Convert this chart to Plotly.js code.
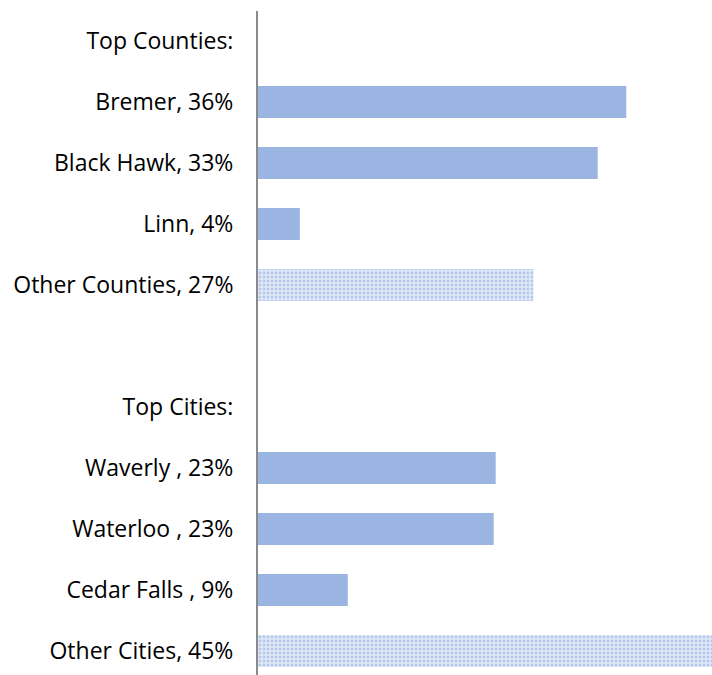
<!DOCTYPE html>
<html><head><meta charset="utf-8">
<script src="https://cdn.plot.ly/plotly-3.0.1.min.js"></script>
<style>html,body{margin:0;padding:0;background:#fff}#chart{width:712px;height:675px}</style>
</head><body><div id="chart"></div>
<script>
const labels = ["Top Counties:", "Bremer, 36%", "Black Hawk, 33%", "Linn, 4%", "Other Counties, 27%", "", "Top Cities:", "Waverly , 23%", "Waterloo , 23%", "Cedar Falls , 9%", "Other Cities, 45%"];
const values = [null, 36.1, 33.3, 4.1, 27.0, null, null, 23.3, 23.1, 8.8, 44.6];
const isOther = [false, false, false, false, true, false, false, false, false, false, true];

const idx = labels.map((_, i) => i);
const solidX = values.map((v, i) => isOther[i] ? null : v);
const otherX = values.map((v, i) => isOther[i] ? v : null);

const traces = [
  {type:'bar', orientation:'h', y: idx, x: solidX, marker:{color:'#9bb5e3'}, hoverinfo:'skip'},
  {type:'bar', orientation:'h', y: idx, x: otherX,
   marker:{color:'#d6e1f5', pattern:{shape:'.', fgcolor:'#b3c7ec', bgcolor:'#e2eaf8', size:4, solidity:0.4, fillmode:'replace'}}, hoverinfo:'skip'}
];

const layout = {
  width:712, height:675,
  margin:{l:258, r:0, t:11, b:0},
  barmode:'overlay', bargap:0.475,
  showlegend:false,
  paper_bgcolor:'#fff', plot_bgcolor:'#fff',
  font:{family:'Open Sans, Liberation Sans, Arial, sans-serif', size:23, color:'#000'},
  xaxis:{range:[0, 44.5], visible:false, fixedrange:true},
  yaxis:{tickmode:'array', tickvals: idx, ticktext: labels, range:[10.393, -0.492],
         showline:true, linecolor:'#8a8a8a', linewidth:2, showgrid:false, zeroline:false,
         ticks:'', ticklabelstandoff:18, tickfont:{size:23, color:'#000'}}
};
Plotly.newPlot('chart', traces, layout, {displayModeBar:false, staticPlot:true});
</script></body></html>
